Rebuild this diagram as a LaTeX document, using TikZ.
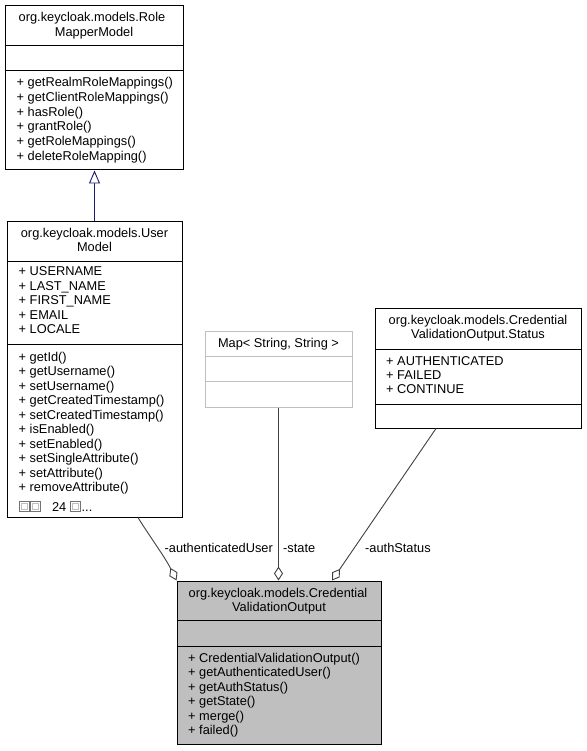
\documentclass[tikz,border=0pt]{standalone}
\usepackage{fontspec}
\setmainfont{Liberation Sans}
\usetikzlibrary{arrows.meta}
\definecolor{edgegray}{HTML}{404040}
\definecolor{navyline}{HTML}{191970}
\definecolor{boxgray}{HTML}{BFBFBF}
\newcommand\tofuglyph{\tikz[baseline=0pt]{\draw[black!55, line width=0.6pt] (0pt,0pt) rectangle (10pt,9.5pt); \draw[black!25, line width=0.5pt] (2pt,2pt) rectangle (8pt,7.5pt);}}
\begin{document}
\begin{tikzpicture}[x=1pt,y=-1pt,
  cls/.style={draw=black, line width=1pt, inner sep=0pt, fill=white},
  sepline/.style={draw=black, line width=1pt},
  txt/.style={inner sep=0pt, font=\fontsize{12.8}{15}\selectfont},
  lft/.style={txt, anchor=base west},
  ctr/.style={txt, anchor=base},
  agg/.style={draw=edgegray, line width=0.9pt, {Diamond[fill=white,length=14pt,width=9pt]}-},
  inh/.style={draw=navyline, line width=0.9pt, -{Triangle[fill=white,length=13pt,width=11pt]}}]
\useasboundingbox (0,0) rectangle (586,751);

% RoleMapperModel
\node[cls, minimum width=178pt, minimum height=164pt] (rm) at (94,88) {};
\draw[sepline] (rm.west |- 0,46) -- (rm.east |- 0,46);
\draw[sepline] (rm.west |- 0,71) -- (rm.east |- 0,71);
\node[ctr] (rmn1) at (92,22) {org.keycloak.models.Role};
\node[ctr] (rmn2) at (94,36.5) {MapperModel};
\foreach \t [count=\i from 0] in {+ getRealmRoleMappings(), + getClientRoleMappings(), + hasRole(), + grantRole(), + getRoleMappings(), + deleteRoleMapping()}
  \node[lft] (rmm\i) at (16.5,86.5+\i*14.8) {\t};

% UserModel
\node[cls, minimum width=175pt, minimum height=296pt] (um) at (94.5,369) {};
\draw[sepline] (um.west |- 0,261) -- (um.east |- 0,261);
\draw[sepline] (um.west |- 0,344) -- (um.east |- 0,344);
\node[ctr] (umn1) at (94.5,237) {org.keycloak.models.User};
\node[ctr] (umn2) at (94.5,251.5) {Model};
\foreach \t [count=\i from 0] in {+ USERNAME, + LAST\_NAME, + FIRST\_NAME, + EMAIL, + LOCALE}
  \node[lft] (uma\i) at (18.5,275.7+\i*14.5) {\t};
\foreach \t [count=\i from 0] in {+ getId(), + getUsername(), + setUsername(), + getCreatedTimestamp(), + setCreatedTimestamp(), + isEnabled(), + setEnabled(), + setSingleAttribute(), + setAttribute(), + removeAttribute()}
  \node[lft] (umm\i) at (18.5,361+\i*14.5) {\t};
\node[lft] (ummore) at (18.5,511) {\tofuglyph\hspace{0.7pt}\tofuglyph\hspace{11.5pt}24\hspace{3.7pt}\tofuglyph\hspace{1pt}...};

% Map< String, String >
\node[cls, draw=boxgray, minimum width=147pt, minimum height=76pt] (map) at (278.5,369) {};
\draw[sepline, draw=boxgray] (map.west |- 0,356) -- (map.east |- 0,356);
\draw[sepline, draw=boxgray] (map.west |- 0,381) -- (map.east |- 0,381);
\node[ctr] (mapn) at (278.5,347) {Map< String, String >};

% CredentialValidationOutput.Status
\node[cls, minimum width=206pt, minimum height=120pt] (st) at (478,368) {};
\draw[sepline] (st.west |- 0,349) -- (st.east |- 0,349);
\draw[sepline] (st.west |- 0,404) -- (st.east |- 0,404);
\node[ctr] (stn1) at (478,324) {org.keycloak.models.Credential};
\node[ctr] (stn2) at (478,338.5) {ValidationOutput.Status};
\foreach \t [count=\i from 0] in {+ AUTHENTICATED, + FAILED, + CONTINUE}
  \node[lft] (sta\i) at (386,365+\i*14.3) {\t};

% CredentialValidationOutput
\node[cls, fill=boxgray, minimum width=204pt, minimum height=163pt] (cvo) at (279,662.5) {};
\draw[sepline] (cvo.west |- 0,620) -- (cvo.east |- 0,620);
\draw[sepline] (cvo.west |- 0,646) -- (cvo.east |- 0,646);
\node[ctr] (cvon1) at (278,597) {org.keycloak.models.Credential};
\node[ctr] (cvon2) at (279,611.5) {ValidationOutput};
\foreach \t [count=\i from 0] in {+ CredentialValidationOutput(), + getAuthenticatedUser(), + getAuthStatus(), + getState(), + merge(), + failed()}
  \node[lft] (cvom\i) at (188,662+\i*14.5) {\t};

% connectors
\draw[inh] (um.north) -- (um.north |- rm.south);
\draw[agg] (cvo.north west) .. controls (165,557) and (146,531) .. (um.south -| 138,0);
\draw[agg] (map.south |- cvo.north) -- (map.south);
\draw[agg] (cvo.north -| 332,0) -- (st.south -| 436,0);

% labels
\node[txt, anchor=base east] (lau) at (273,552.5) {-authenticatedUser};
\node[txt, anchor=base west] (lst) at (283,552.5) {-state};
\node[txt, anchor=base west] (las) at (365,552.5) {-authStatus};
\end{tikzpicture}
\end{document}
